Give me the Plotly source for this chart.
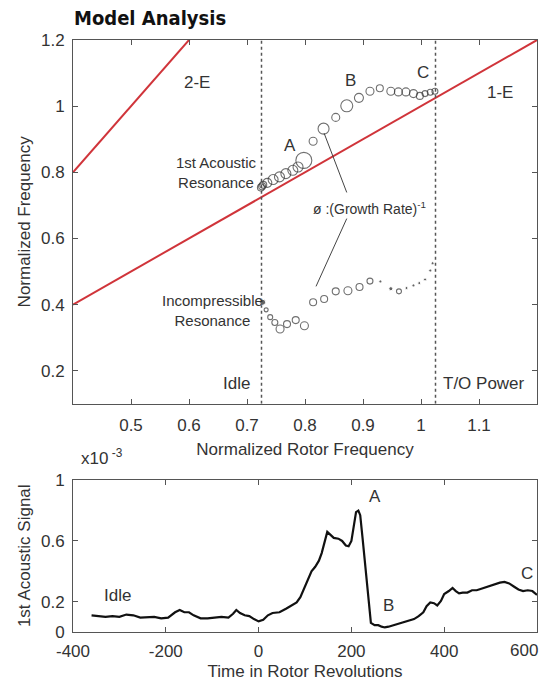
import plotly.graph_objects as go

# ---------------- data: top chart ----------------
upper_x = [0.724, 0.726, 0.728, 0.735, 0.745, 0.756, 0.767, 0.779, 0.788, 0.798,
           0.814, 0.832, 0.853, 0.872, 0.893, 0.912, 0.929, 0.948, 0.961, 0.974,
           0.987, 0.998, 1.007, 1.016, 1.024]
upper_y = [0.754, 0.758, 0.762, 0.768, 0.778, 0.786, 0.796, 0.806, 0.816, 0.836,
           0.894, 0.932, 0.966, 1.001, 1.025, 1.045, 1.054, 1.045, 1.043, 1.043,
           1.038, 1.031, 1.038, 1.042, 1.045]
upper_size = [7, 7, 7, 9, 10, 10, 10, 10, 10, 16,
              8, 11, 8, 12, 9, 8, 7, 8, 8, 8,
              8, 7, 6, 6, 6]

lower_x = [0.733, 0.740, 0.748, 0.757, 0.769, 0.784, 0.799, 0.814, 0.833, 0.853,
           0.874, 0.894, 0.912, 0.962]
lower_y = [0.384, 0.362, 0.346, 0.326, 0.341, 0.353, 0.336, 0.407, 0.417, 0.440,
           0.442, 0.453, 0.471, 0.440]
lower_size = [4, 5, 6, 8, 7, 7, 8, 7, 7, 7, 8, 7, 6, 5]

dot_x = [0.727, 0.930, 0.948, 0.975, 0.987, 0.997, 1.007, 1.016, 1.020]
dot_y = [0.407, 0.470, 0.448, 0.450, 0.458, 0.465, 0.476, 0.503, 0.525]
dot_size = [6, 3, 4, 3, 3, 3, 3, 3, 3]

idle_freq = 0.725
to_freq = 1.025
x_range = [0.4, 1.2]
y_range = [0.1, 1.2]
top_xticks = [0.5, 0.6, 0.7, 0.8, 0.9, 1.0, 1.1]
top_xtick_text = ["0.5", "0.6", "0.7", "0.8", "0.9", "1", "1.1"]
top_yticks = [0.2, 0.4, 0.6, 0.8, 1.0, 1.2]
top_ytick_text = ["0.2", "0.4", "0.6", "0.8", "1", "1.2"]

# leader lines for growth-rate label (data units)
leader1 = [(0.833, 0.918), (0.872, 0.739)]
leader2 = [(0.872, 0.660), (0.819, 0.455)]

# ---------------- data: bottom chart ----------------
t_rev = [-360, -345, -330, -315, -300, -285, -270, -255, -240, -225, -210, -195,
         -180, -170, -160, -150, -140, -125, -110, -95, -80, -65, -55, -48, -40,
         -30, -20, -10, 0, 10, 20, 30, 45, 60, 70, 82, 90, 98, 106, 114, 122, 130,
         136, 142, 148, 155, 162, 172, 180, 188, 194, 200, 205, 210, 215, 219, 224,
         230, 236, 242, 250, 258, 265, 272, 280, 290, 300, 312, 325, 335, 345, 355,
         362, 370, 378, 385, 393, 400, 410, 418, 425, 432, 440, 450, 460, 470, 480,
         490, 500, 510, 520, 530, 540, 550, 560, 570, 580, 590, 600]
signal = [0.11, 0.105, 0.10, 0.105, 0.10, 0.115, 0.11, 0.095, 0.10, 0.10, 0.09, 0.095,
          0.13, 0.145, 0.13, 0.13, 0.11, 0.09, 0.09, 0.095, 0.10, 0.095, 0.12, 0.145, 0.125,
          0.11, 0.105, 0.085, 0.07, 0.08, 0.11, 0.125, 0.13, 0.155, 0.175, 0.195, 0.23, 0.29,
          0.35, 0.40, 0.43, 0.47, 0.52, 0.60, 0.66, 0.64, 0.62, 0.615, 0.60, 0.57, 0.565,
          0.60, 0.70, 0.79, 0.80, 0.77, 0.62, 0.42, 0.22, 0.06, 0.045, 0.045, 0.035, 0.03,
          0.035, 0.045, 0.055, 0.065, 0.075, 0.085, 0.105, 0.13, 0.17, 0.195, 0.19, 0.175,
          0.205, 0.25, 0.27, 0.29, 0.27, 0.255, 0.26, 0.26, 0.275, 0.275, 0.285, 0.295,
          0.31, 0.315, 0.325, 0.33, 0.32, 0.30, 0.28, 0.27, 0.275, 0.27, 0.245]
bot_xticks = [-400, -200, 0, 200, 400]
bot_xtick_text = ["-400", "-200", "0", "200", "400"]
bot_last_tick = 600
bot_yticks = [0, 0.2, 0.6, 1.0]
bot_ytick_text = ["0", "0.2", "0.6", "1"]

FONT = "Liberation Sans, Arial, sans-serif"
AX = "#555555"
RED = "#d0343a"
MK = "#333333"

fig = go.Figure()

# E-lines
fig.add_trace(go.Scatter(x=x_range, y=[x_range[0] * 1, x_range[1] * 1], mode="lines",
                         line=dict(color=RED, width=2), xaxis="x", yaxis="y", hoverinfo="skip"))
fig.add_trace(go.Scatter(x=x_range, y=[x_range[0] * 2, x_range[1] * 2], mode="lines",
                         line=dict(color=RED, width=2), xaxis="x", yaxis="y", hoverinfo="skip"))

# idle / T-O dashed lines
for xv in (idle_freq, to_freq):
    fig.add_trace(go.Scatter(x=[xv, xv], y=y_range, mode="lines",
                             line=dict(color="#555555", width=1.5, dash="3px,3px"),
                             xaxis="x", yaxis="y", hoverinfo="skip"))

# leader lines
for seg in (leader1, leader2):
    fig.add_trace(go.Scatter(x=[seg[0][0], seg[1][0]], y=[seg[0][1], seg[1][1]], mode="lines",
                             line=dict(color="#444444", width=1), xaxis="x", yaxis="y",
                             hoverinfo="skip"))

fig.add_trace(go.Scatter(x=upper_x, y=upper_y, mode="markers",
                         marker=dict(symbol="circle-open", size=upper_size,
                                     color=MK, line=dict(width=1.1, color=MK)),
                         xaxis="x", yaxis="y"))
fig.add_trace(go.Scatter(x=lower_x, y=lower_y, mode="markers",
                         marker=dict(symbol="circle-open", size=lower_size,
                                     color=MK, line=dict(width=1.1, color=MK)),
                         xaxis="x", yaxis="y"))
fig.add_trace(go.Scatter(x=dot_x, y=dot_y, mode="markers",
                         marker=dict(symbol="circle", size=dot_size, color="#222222"),
                         xaxis="x", yaxis="y"))

# bottom trace
fig.add_trace(go.Scatter(x=t_rev, y=signal, mode="lines",
                         line=dict(color="#111111", width=2.2), xaxis="x2", yaxis="y2"))

axis_common = dict(showline=True, linecolor=AX, linewidth=1, mirror="ticks",
                   ticks="inside", ticklen=5, tickcolor=AX, showgrid=False, zeroline=False,
                   tickfont=dict(family=FONT, size=17, color="#333333"))

fig.update_layout(
    width=550, height=689,
    margin=dict(l=73, r=13, t=40, b=55),
    paper_bgcolor="white", plot_bgcolor="white",
    showlegend=False,
    font=dict(family=FONT, size=17, color="#333333"),
    title=dict(text="<b>Model Analysis</b>", x=74 / 550, xanchor="left",
               y=1 - 18 / 689, yanchor="middle", yref="container",
               font=dict(family="DejaVu Sans Condensed, Liberation Sans Narrow, sans-serif",
                         size=20, color="#111111")),
    xaxis=dict(range=x_range, domain=[0, 1], anchor="y", tickvals=top_xticks,
               ticktext=top_xtick_text, ticklabelstandoff=6,
               title=dict(text="Normalized Rotor Frequency", standoff=8,
                          font=dict(family=FONT, size=17)), **axis_common),
    yaxis=dict(range=y_range, domain=[0.3855, 1], anchor="x", tickvals=top_yticks,
               ticktext=top_ytick_text, ticklabelstandoff=4,
               title=dict(text="Normalized Frequency", standoff=6,
                          font=dict(family=FONT, size=17)), **axis_common),
    xaxis2=dict(range=[-400, 600], domain=[0, 1], anchor="y2", tickvals=bot_xticks,
                ticktext=bot_xtick_text, ticklabelstandoff=4,
                title=dict(text="Time in Rotor Revolutions", standoff=4,
                           font=dict(family=FONT, size=17)), **axis_common),
    yaxis2=dict(range=[0, 1.005], domain=[0, 0.2576], anchor="x2", tickvals=bot_yticks,
                ticktext=bot_ytick_text, ticklabelstandoff=4,
                title=dict(text="1st Acoustic Signal", standoff=6,
                           font=dict(family=FONT, size=17)), **axis_common),
)

ann = [
    dict(x=0.614, y=1.07, text="2-E", xref="x", yref="y"),
    dict(x=1.136, y=1.042, text="1-E", xref="x", yref="y"),
    dict(x=0.774, y=0.882, text="A", xref="x", yref="y"),
    dict(x=0.878, y=1.079, text="B", xref="x", yref="y"),
    dict(x=1.003, y=1.103, text="C", xref="x", yref="y"),
    dict(x=0.648, y=0.80, text="1st Acoustic<br>Resonance", xref="x", yref="y", size=15),
    dict(x=0.640, y=0.382, text="Incompressible<br>Resonance", xref="x", yref="y", size=15),
    dict(x=0.709, y=0.161, text="Idle", xref="x", yref="y", xanchor="right"),
    dict(x=1.034, y=0.161, text="T/O Power", xref="x", yref="y", xanchor="left"),
    dict(x=0.912, y=0.691, text="ø :(Growth Rate)<sup>-1</sup>", xref="x", yref="y", size=14),
    dict(x=-304, y=0.24, text="Idle", xref="x2", yref="y2"),
    dict(x=250, y=0.895, text="A", xref="x2", yref="y2"),
    dict(x=280, y=0.174, text="B", xref="x2", yref="y2"),
    dict(x=578, y=0.384, text="C", xref="x2", yref="y2"),
    dict(x=-387, y=1.15, text="x10<sup> -3</sup>", xref="x2", yref="y2 domain", xanchor="left"),
    dict(x=bot_last_tick, y=-0.12, text=str(bot_last_tick), xref="x2", yref="y2 domain",
         xanchor="right", xshift=3),
]
for a in ann:
    size = a.pop("size", 17)
    xa = a.pop("xanchor", "center")
    fig.add_annotation(showarrow=False, xanchor=xa, yanchor="middle",
                       font=dict(family=FONT, size=size, color="#333333"), **a)

fig.write_html("out.html")
